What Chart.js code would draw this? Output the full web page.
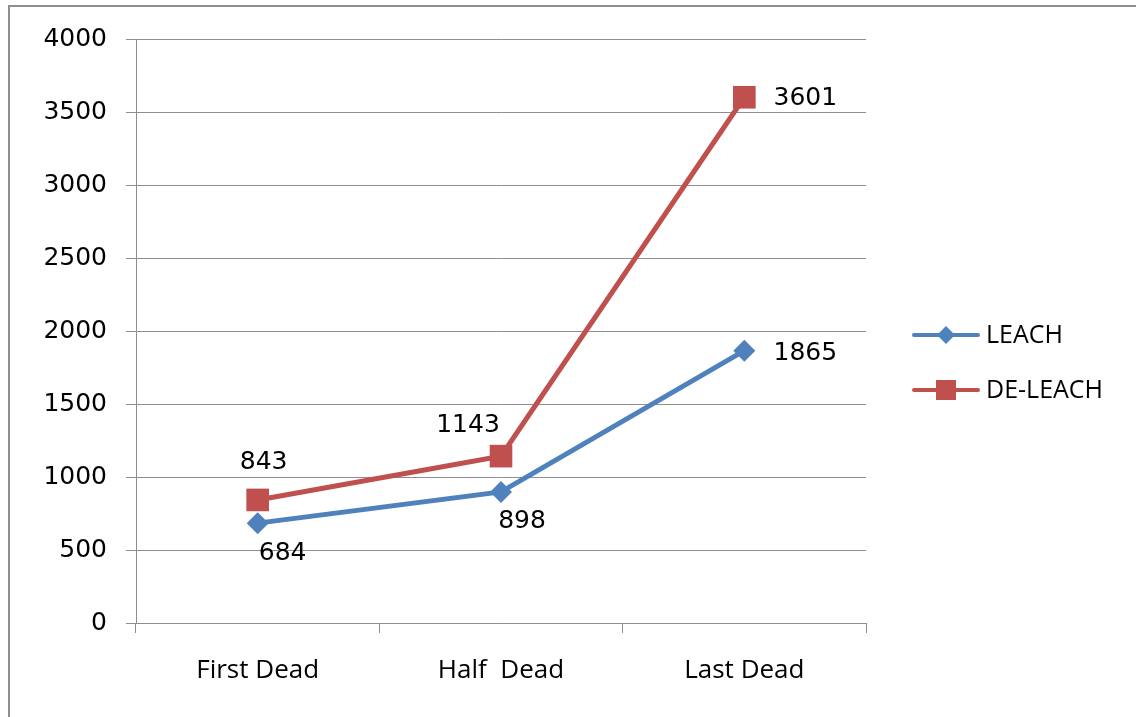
<!DOCTYPE html>
<html>
<head>
<meta charset="UTF-8" />
<title>LEACH vs DE-LEACH</title>
<script src="https://cdn.jsdelivr.net/npm/chart.js@4.4.0/dist/chart.umd.min.js"></script>
<style>
  html,body{margin:0;padding:0;background:#fff;overflow:hidden}
  #wrap{position:relative;width:1136px;height:717px}
  #frame{position:absolute;left:8px;top:5px;width:1140px;height:730px;border:2px solid #8e8e8e;box-sizing:border-box}
  canvas{position:absolute;left:0;top:0}
</style>
</head>
<body>
<div id="wrap">
  <div id="frame"></div>
  <canvas id="chart" width="1136" height="717"></canvas>
</div>
<script>
// data
const categories = ['First Dead', 'Half  Dead', 'Last Dead'];
const leach = [684, 898, 1865];
const deLeach = [843, 1143, 3601];
const yTicks = [0, 500, 1000, 1500, 2000, 2500, 3000, 3500, 4000];

const BLUE = '#4f81bd', RED = '#c0504d';
const numFont = '"DejaVu Sans", Verdana, sans-serif';
const txtFont = '"Open Sans", sans-serif';

// value labels, offset from each point like the original
const pointLabels = {
  id: 'pointLabels',
  afterDatasetsDraw(chart, args, opts){
    const ctx = chart.ctx;
    ctx.save();
    ctx.font = '25px ' + numFont;
    ctx.fillStyle = '#000';
    ctx.textAlign = 'center';
    ctx.textBaseline = 'middle';
    chart.data.datasets.forEach((ds, i) => {
      const meta = chart.getDatasetMeta(i);
      const offs = opts.offsets[i];
      meta.data.forEach((pt, j) => {
        ctx.fillText(String(ds.data[j]), pt.x + offs[j][0], pt.y + offs[j][1]);
      });
    });
    ctx.restore();
  }
};

// legend: line + marker, then name
const sideLegend = {
  id: 'sideLegend',
  afterDraw(chart, args, opts){
    const ctx = chart.ctx;
    ctx.save();
    chart.data.datasets.forEach((ds, i) => {
      const y = opts.top + i * opts.step;
      const x = opts.left;
      ctx.strokeStyle = ds.borderColor;
      ctx.lineWidth = 4;
      ctx.lineCap = 'round';
      ctx.beginPath(); ctx.moveTo(x, y); ctx.lineTo(x + 64, y); ctx.stroke();
      ctx.fillStyle = ds.borderColor;
      const cx = x + 32;
      ctx.beginPath();
      if(ds.pointStyle === 'rectRot'){
        ctx.moveTo(cx, y - 9); ctx.lineTo(cx + 9, y); ctx.lineTo(cx, y + 9); ctx.lineTo(cx - 9, y);
      } else {
        ctx.rect(cx - 10, y - 10, 20, 20);
      }
      ctx.closePath(); ctx.fill();
      ctx.fillStyle = '#000';
      ctx.font = '25px ' + txtFont;
      ctx.textAlign = 'left';
      ctx.textBaseline = 'middle';
      ctx.fillText(ds.label, x + 72, y + 1);
    });
    ctx.restore();
  }
};

new Chart(document.getElementById('chart'), {
  type: 'line',
  data: {
    labels: categories,
    datasets: [
      {
        label: 'LEACH', data: leach,
        borderColor: BLUE, backgroundColor: BLUE, borderWidth: 5,
        pointStyle: 'rectRot', pointRadius: 11, pointHoverRadius: 11,
        pointBorderWidth: 0, tension: 0
      },
      {
        label: 'DE-LEACH', data: deLeach,
        borderColor: RED, backgroundColor: RED, borderWidth: 5,
        pointStyle: 'rect', pointRadius: 16, pointHoverRadius: 16,
        pointBorderWidth: 0, tension: 0
      }
    ]
  },
  options: {
    responsive: false,
    animation: false,
    layout: { padding: { left: 42, top: 39, right: 270, bottom: 0 } },
    scales: {
      x: {
        offset: true,
        grid: { offset: true, drawOnChartArea: false, color: '#8e8e8e', tickLength: 10, lineWidth: 1 },
        border: { color: '#8e8e8e', width: 1 },
        ticks: { color: '#000', padding: 22, maxRotation: 0, font: { family: txtFont, size: 26 } },
        afterFit(s){ s.height = 94; }
      },
      y: {
        min: 0, max: 4000,
        afterBuildTicks(s){ s.ticks = yTicks.map(v => ({ value: v })); },
        grid: { color: '#8e8e8e', tickLength: 10, lineWidth: 1 },
        border: { color: '#8e8e8e', width: 1 },
        ticks: { color: '#000', padding: 19, font: { family: numFont, size: 25 }, callback: v => String(v) },
        afterFit(s){ s.width = 94; }
      }
    },
    plugins: {
      tooltip: { enabled: false },
      legend: { display: false },
      pointLabels: {
        offsets: [
          [[25, 30], [21, 30], [61, 3]],
          [[6, -37], [-33, -31], [61, 1]]
        ]
      },
      sideLegend: { left: 914, top: 335, step: 55 }
    }
  },
  plugins: [pointLabels, sideLegend]
});
</script>
</body>
</html>
